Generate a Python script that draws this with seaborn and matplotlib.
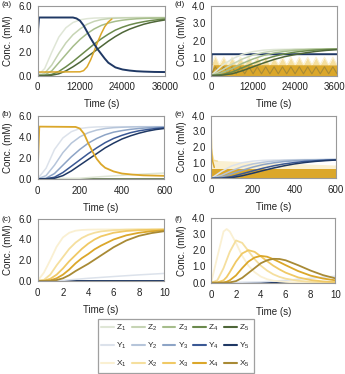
import matplotlib
matplotlib.use("Agg")
import matplotlib.pyplot as plt
import seaborn as sns
from matplotlib.lines import Line2D

# ---- colours for the 15 species ----
Z_COLS = ["#dfe6d6", "#c6d4b4", "#a6bd8b", "#6b8a4c", "#4e6638"]
Y_COLS = ["#dce2eb", "#b6c5da", "#8da4c6", "#3a5894", "#1f3864"]
X_COLS = ["#faf0d2", "#f5df9e", "#f0c965", "#dba72a", "#a88a35"]

# ---- panel (a): 0-36000 s ----
t_a = [0, 2000, 4000, 6000, 8000, 10000, 12000, 14000, 16000, 18000,
       20000, 22000, 24000, 26000, 28000, 30000, 32000, 34000, 36000]
z1_a = [0, 0.6, 2.0, 3.3, 4.1, 4.55, 4.78, 4.88, 4.93, 4.95, 4.96, 4.97, 4.97, 4.97, 4.97, 4.97, 4.97, 4.97, 4.97]
z2_a = [0, 0.2, 0.9, 1.9, 2.8, 3.5, 4.0, 4.4, 4.65, 4.8, 4.88, 4.92, 4.95, 4.96, 4.97, 4.97, 4.97, 4.97, 4.97]
z3_a = [0, 0.05, 0.4, 1.1, 1.8, 2.5, 3.1, 3.6, 4.0, 4.3, 4.5, 4.65, 4.75, 4.82, 4.87, 4.9, 4.92, 4.93, 4.95]
z4_a = [0, 0.0, 0.1, 0.35, 0.75, 1.2, 1.7, 2.2, 2.7, 3.15, 3.55, 3.9, 4.15, 4.35, 4.5, 4.62, 4.72, 4.79, 4.85]
z5_a = [0, 0.0, 0.03, 0.15, 0.4, 0.75, 1.15, 1.6, 2.05, 2.5, 2.95, 3.35, 3.7, 3.98, 4.2, 4.4, 4.55, 4.67, 4.77]
t_y5_a = [0, 150, 400, 10000, 11000, 12000, 13000, 14000, 15000, 16000, 17000,
          18000, 19000, 20000, 22000, 24000, 26000, 28000, 30000, 33000, 36000]
y5_a = [0.6, 4.0, 4.98, 4.98, 4.9, 4.7, 4.3, 3.75, 3.2, 2.7, 2.25,
        1.85, 1.45, 1.1, 0.7, 0.52, 0.43, 0.37, 0.34, 0.31, 0.3]
t_x4_a = [0, 300, 12000, 13000, 14000, 15000, 16000, 17000, 18000, 19000, 20000, 21000]
x4_a = [0.2, 0.3, 0.32, 0.42, 0.75, 1.35, 2.1, 2.9, 3.6, 4.2, 4.6, 4.85]

# ---- panel (b): 0-600 s ----
t_b = [0, 40, 80, 120, 160, 200, 240, 280, 320, 360, 400, 440, 480, 520, 560, 600]
y1_b = [0, 1.0, 2.8, 3.9, 4.5, 4.8, 4.9, 4.95, 4.97, 4.97, 4.97, 4.97, 4.97, 4.97, 4.97, 4.97]
y2_b = [0, 0.3, 1.3, 2.5, 3.4, 4.0, 4.4, 4.65, 4.8, 4.88, 4.92, 4.95, 4.97, 4.97, 4.97, 4.97]
y3_b = [0, 0.05, 0.5, 1.3, 2.1, 2.8, 3.4, 3.85, 4.2, 4.45, 4.6, 4.72, 4.8, 4.86, 4.9, 4.93]
y4_b = [0, 0, 0.15, 0.6, 1.2, 1.8, 2.4, 2.95, 3.45, 3.85, 4.15, 4.4, 4.58, 4.7, 4.8, 4.87]
y5_b = [0, 0, 0.05, 0.3, 0.75, 1.3, 1.85, 2.4, 2.95, 3.4, 3.8, 4.1, 4.35, 4.55, 4.7, 4.8]
t_x4_b = [0, 8, 180, 200, 220, 240, 260, 280, 300, 320, 360, 400, 450, 500, 600]
x4_b = [0.5, 4.98, 4.95, 4.8, 4.3, 3.4, 2.6, 1.9, 1.4, 1.05, 0.7, 0.5, 0.4, 0.33, 0.28]
t_z_b = [0, 200, 300, 400, 500, 600]
z1_b = [0, 0.05, 0.2, 0.33, 0.45, 0.55]
z5_b = [0, 0, 0, 0, 0, 0]

# ---- panel (c): 0-10 s ----
t_c = [0, 0.5, 1, 1.5, 2, 2.5, 3, 3.5, 4, 4.5, 5, 6, 7, 8, 9, 10]
x1_c = [0, 0.8, 2.0, 3.3, 4.2, 4.65, 4.85, 4.92, 4.95, 4.96, 4.97, 4.97, 4.97, 4.97, 4.97, 4.97]
x2_c = [0, 0.1, 0.6, 1.5, 2.3, 3.1, 3.7, 4.15, 4.45, 4.65, 4.78, 4.9, 4.95, 4.97, 4.97, 4.97]
x3_c = [0, 0.02, 0.2, 0.6, 1.2, 1.9, 2.5, 3.1, 3.6, 4.0, 4.3, 4.65, 4.82, 4.9, 4.94, 4.96]
x4_c = [0, 0, 0.05, 0.25, 0.6, 1.1, 1.7, 2.2, 2.6, 3.05, 3.4, 4.0, 4.4, 4.65, 4.8, 4.88]
x5_c = [0, 0, 0, 0.08, 0.25, 0.55, 0.95, 1.3, 1.65, 2.05, 2.45, 3.25, 3.9, 4.35, 4.62, 4.8]
t_y_c = [0, 1.5, 4, 6, 8, 10]
y1_c = [0, 0.0, 0.25, 0.42, 0.58, 0.72]
y5_c = [0, 0, 0, 0, 0, 0]

# ---- panel (d): 0-36000 s ----
t_d = [0, 3000, 6000, 9000, 12000, 15000, 18000, 21000, 24000, 27000, 30000, 33000, 36000]
z1_d = [0, 0.55, 0.95, 1.22, 1.37, 1.45, 1.49, 1.5, 1.51, 1.51, 1.52, 1.52, 1.52]
z2_d = [0, 0.3, 0.65, 0.95, 1.18, 1.32, 1.41, 1.46, 1.49, 1.5, 1.51, 1.52, 1.52]
z3_d = [0, 0.15, 0.4, 0.7, 0.95, 1.15, 1.29, 1.38, 1.44, 1.48, 1.5, 1.51, 1.52]
z4_d = [0, 0.05, 0.2, 0.45, 0.7, 0.92, 1.1, 1.24, 1.34, 1.41, 1.46, 1.49, 1.51]
z5_d = [0, 0.02, 0.1, 0.28, 0.5, 0.72, 0.92, 1.08, 1.2, 1.3, 1.38, 1.44, 1.48]
t_y5_d = [0, 150, 36000]
y5_d = [0, 1.22, 1.22]
t_band_d = [0, 600, 36000]
band_hi_d = [0, 0.65, 0.62]
t_zz_d = [0, 1200, 2400, 3600, 4800, 6000, 7200, 8400, 9600, 10800, 12000, 13200, 14400,
          15600, 16800, 18000, 19200, 20400, 21600, 22800, 24000, 25200, 26400, 27600,
          28800, 30000, 31200, 32400, 33600, 34800, 36000]
x2_d = [0.62, 1.1, 0.62, 1.05, 0.62, 1.05, 0.62, 1.05, 0.62, 1.05, 0.62, 1.05, 0.62, 1.05,
        0.62, 1.05, 0.62, 1.05, 0.62, 1.05, 0.62, 1.05, 0.62, 1.05, 0.62, 1.05, 0.62, 1.05,
        0.62, 1.05, 0.62]
x5_d = [0.05, 0.5, 0.1, 0.5, 0.1, 0.5, 0.1, 0.5, 0.1, 0.5, 0.1, 0.5, 0.1, 0.5, 0.1, 0.5,
        0.1, 0.5, 0.1, 0.5, 0.1, 0.5, 0.1, 0.5, 0.1, 0.5, 0.1, 0.5, 0.1, 0.5, 0.1]

# ---- panel (e): 0-600 s ----
t_e = [0, 50, 100, 150, 200, 250, 300, 350, 400, 450, 500, 550, 600]
y1_e = [0, 0.45, 0.8, 1.0, 1.1, 1.15, 1.17, 1.18, 1.19, 1.2, 1.2, 1.2, 1.2]
y2_e = [0, 0.2, 0.5, 0.75, 0.92, 1.03, 1.1, 1.14, 1.17, 1.18, 1.19, 1.2, 1.2]
y3_e = [0, 0.08, 0.3, 0.52, 0.72, 0.88, 0.99, 1.07, 1.12, 1.15, 1.17, 1.19, 1.2]
y4_e = [0, 0.02, 0.12, 0.3, 0.48, 0.65, 0.8, 0.92, 1.01, 1.08, 1.12, 1.16, 1.18]
y5_e = [0, 0.0, 0.05, 0.17, 0.33, 0.5, 0.66, 0.8, 0.92, 1.01, 1.08, 1.13, 1.17]
t_band_e = [0, 20, 100, 200, 300, 400, 500, 600]
band_lo_e = [0.05, 0.05, 0.05, 0.05, 0.05, 0.05, 0.05, 0.05]
band_mid_e = [0.62, 0.62, 0.62, 0.62, 0.62, 0.62, 0.62, 0.62]
band_hi_e = [1.2, 1.15, 1.1, 1.05, 1.0, 0.95, 0.9, 0.85]
t_x1_e = [0, 4, 12, 30]
x1_e = [3.0, 1.6, 1.15, 1.1]
t_x5_e = [0, 5, 15]
x5_e = [2.0, 1.2, 0.7]

# ---- panel (f): 0-10 s ----
t_f = [0, 0.5, 1, 1.25, 1.5, 2, 2.5, 3, 3.5, 4, 4.5, 5, 5.5, 6, 7, 8, 9, 10]
x1_f = [0, 1.6, 3.15, 3.3, 3.15, 2.45, 1.65, 1.05, 0.65, 0.38, 0.22, 0.13, 0.08, 0.05, 0.02, 0.01, 0.0, 0.0]
x2_f = [0, 0.15, 0.9, 1.4, 1.9, 2.6, 2.45, 1.95, 1.45, 1.05, 0.75, 0.52, 0.36, 0.25, 0.12, 0.06, 0.03, 0.01]
x3_f = [0, 0.02, 0.15, 0.35, 0.65, 1.3, 1.8, 2.0, 1.9, 1.62, 1.33, 1.05, 0.82, 0.62, 0.33, 0.17, 0.08, 0.04]
x4_f = [0, 0, 0.02, 0.06, 0.15, 0.45, 0.9, 1.3, 1.55, 1.65, 1.6, 1.45, 1.27, 1.08, 0.72, 0.44, 0.26, 0.15]
x5_f = [0, 0, 0, 0.01, 0.02, 0.1, 0.3, 0.6, 0.9, 1.2, 1.38, 1.47, 1.46, 1.38, 1.08, 0.75, 0.47, 0.27]
t_y_f = [0, 4, 6, 8, 10]
y1_f = [0, 0.05, 0.15, 0.28, 0.4]
y5_f = [0, 0, 0, 0, 0]

sns.set_style("white")
plt.rcParams["font.family"] = ["Liberation Sans", "DejaVu Sans"]
plt.rcParams["mathtext.default"] = "regular"
plt.rcParams["font.size"] = 7

fig = plt.figure(figsize=(3.45, 3.74), dpi=100)


def line(ax, x, y, color, lw=1.1):
    sns.lineplot(x=x, y=y, ax=ax, color=color, linewidth=lw,
                 estimator=None, sort=False, legend=False)


def style(ax, xlim, xticks, ylim, yticks):
    ax.set_xlim(*xlim)
    ax.set_ylim(*ylim)
    ax.set_xticks(xticks)
    ax.set_xticklabels([str(v) for v in xticks])
    ax.set_yticks(yticks)
    ax.set_yticklabels([f"{v:.1f}" for v in yticks])
    ax.set_xlabel("Time (s)", fontsize=7, labelpad=5, color="#222222")
    ax.set_ylabel("Conc. (mM)", fontsize=7, labelpad=4, color="#222222")
    for s in ax.spines.values():
        s.set_color("#999999")
        s.set_linewidth(0.8)
    ax.tick_params(direction="in", length=2, width=0.6, color="#999999",
                   labelsize=7, labelcolor="#222222", pad=4)
    ax.tick_params(axis="x", pad=5)


# (a)
ax_a = fig.add_axes([0.109, 0.798, 0.369, 0.187])
for v, c in zip([z1_a, z2_a, z3_a, z4_a, z5_a], Z_COLS):
    line(ax_a, t_a, v, c)
line(ax_a, t_x4_a, x4_a, X_COLS[3])
line(ax_a, t_y5_a, y5_a, Y_COLS[4], lw=1.4)
style(ax_a, (0, 36000), [0, 12000, 24000, 36000], (0, 6), [0, 2, 4, 6])

# (b)
ax_b = fig.add_axes([0.109, 0.522, 0.367, 0.168])
line(ax_b, t_z_b, z5_b, Z_COLS[4])
line(ax_b, t_z_b, z1_b, Z_COLS[0])
for v, c in zip([y1_b, y2_b, y3_b, y4_b, y5_b], Y_COLS):
    line(ax_b, t_b, v, c)
line(ax_b, t_x4_b, x4_b, X_COLS[3], lw=1.3)
style(ax_b, (0, 600), [0, 200, 400, 600], (0, 6), [0, 2, 4, 6])

# (c)
ax_c = fig.add_axes([0.109, 0.249, 0.367, 0.166])
line(ax_c, t_y_c, y5_c, Y_COLS[4], lw=1.4)
line(ax_c, t_y_c, y1_c, Y_COLS[0])
for v, c in zip([x1_c, x2_c, x3_c, x4_c, x5_c], X_COLS):
    line(ax_c, t_c, v, c, lw=1.3)
style(ax_c, (0, 10), [0, 2, 4, 6, 8, 10], (0, 6), [0, 2, 4, 6])

# (d)
ax_d = fig.add_axes([0.612, 0.798, 0.365, 0.187])
ax_d.fill_between(t_band_d, 0, band_hi_d, color=X_COLS[3], lw=0)
ax_d.fill_between(t_zz_d, 0.62, x2_d, color=X_COLS[1], lw=0)
line(ax_d, t_zz_d, x2_d, X_COLS[0], lw=0.8)
line(ax_d, t_zz_d, x5_d, X_COLS[4], lw=0.8)
line(ax_d, t_y5_d, y5_d, Y_COLS[4], lw=1.4)
for v, c in zip([z1_d, z2_d, z3_d, z4_d, z5_d], Z_COLS):
    line(ax_d, t_d, v, c)
style(ax_d, (0, 36000), [0, 12000, 24000, 36000], (0, 4), [0, 1, 2, 3, 4])

# (e)
ax_e = fig.add_axes([0.612, 0.523, 0.362, 0.168])
ax_e.fill_between(t_band_e, band_mid_e, band_hi_e, color=X_COLS[0], lw=0)
ax_e.fill_between(t_band_e, band_lo_e, band_mid_e, color=X_COLS[3], lw=0)
line(ax_e, t_x1_e, x1_e, X_COLS[1])
line(ax_e, t_x5_e, x5_e, X_COLS[3])
for v, c in zip([y1_e, y2_e, y3_e, y4_e, y5_e], Y_COLS):
    line(ax_e, t_e, v, c)
style(ax_e, (0, 600), [0, 200, 400, 600], (0, 4), [0, 1, 2, 3, 4])

# (f)
ax_f = fig.add_axes([0.612, 0.244, 0.360, 0.174])
line(ax_f, t_y_f, y5_f, Y_COLS[4], lw=1.4)
line(ax_f, t_y_f, y1_f, Y_COLS[0])
for v, c in zip([x1_f, x2_f, x3_f, x4_f, x5_f], X_COLS):
    line(ax_f, t_f, v, c, lw=1.3)
style(ax_f, (0, 10), [0, 2, 4, 6, 8, 10], (0, 4), [0, 1, 2, 3, 4])

# panel letters
for lab, x, y in [("(a)", 0.003, 0.987), ("(b)", 0.003, 0.693), ("(c)", 0.003, 0.414),
                  ("(d)", 0.507, 0.987), ("(e)", 0.507, 0.693), ("(f)", 0.507, 0.414)]:
    fig.text(x, y, lab, fontsize=6, va="center", ha="left", color="#222222")

# legend: rows Z / Y / X, five columns
handles, labels = [], []
for i in range(5):
    for name, cols in [("Z", Z_COLS), ("Y", Y_COLS), ("X", X_COLS)]:
        handles.append(Line2D([0], [0], color=cols[i], lw=1.5))
        labels.append(f"{name}$_{i + 1}$")
leg = fig.legend(handles, labels, ncol=5, loc="lower center",
                 bbox_to_anchor=(0.509, 0.0), fontsize=6, frameon=True,
                 fancybox=False, handlelength=1.5, handletextpad=0.3,
                 columnspacing=0.6, labelspacing=0.95, borderpad=0.45,
                 borderaxespad=0.1)
leg.get_frame().set_edgecolor("#888888")
leg.get_frame().set_linewidth(0.9)

fig.savefig("out.png", dpi=100)
